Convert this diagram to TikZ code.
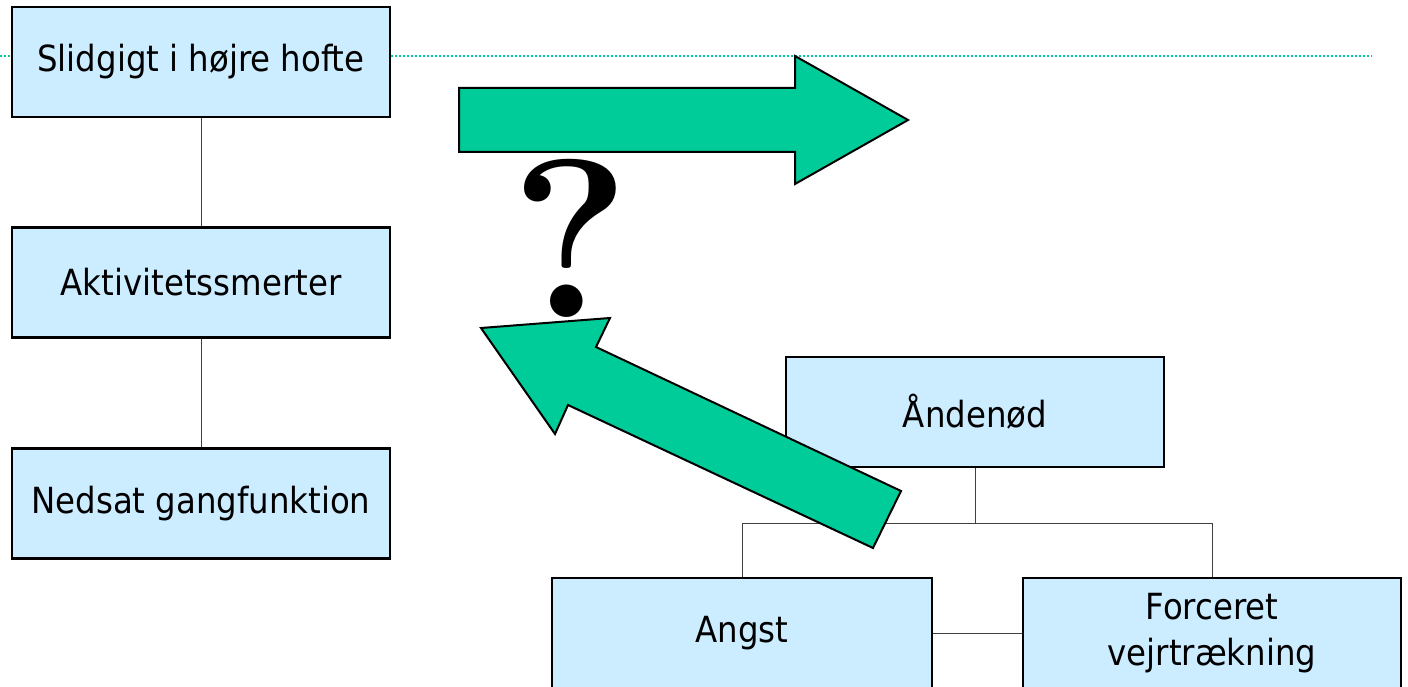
\documentclass[tikz,border=0pt]{standalone}
\usepackage{fontspec}
\usetikzlibrary{calc}
\setmainfont{DejaVu Sans Condensed}
\newfontfamily\qfont{Latin Modern Roman}
\definecolor{boxblue}{HTML}{CCECFF}
\definecolor{arrgreen}{HTML}{00CC99}
\definecolor{linegray}{HTML}{404040}
\begin{document}
\begin{tikzpicture}[x=1pt,y=-1pt,
  box/.style={draw=black,line width=2.5pt,fill=boxblue,minimum width=378pt,minimum height=110pt,inner sep=0pt,font=\fontsize{36}{46}\selectfont,align=center},
  conn/.style={draw=linegray,line width=1pt},
  bigarrow/.style={draw=black,line width=2pt,fill=arrgreen,line join=miter},
  dotline/.style={draw=arrgreen,line width=2.2pt,dash pattern=on 2pt off 2pt}]
\useasboundingbox (0,0) rectangle (1408,687);
% boxes
\node[box] (b1) at (201,62) {Slidgigt i højre hofte};
\node[box] (b2) at (201,282.5) {Aktivitetssmerter};
\node[box] (b3) at (201,503.5) {Nedsat gangfunktion};
\node[box] (and) at (975,412) {Åndenød};
\node[box,minimum width=380pt] (angst) at (742,633) {Angst};
\node[box] (force) at (1212,633) {Forceret\\vejrtrækning};
% dotted line
\coordinate (dl) at (0,56);
\coordinate (dr) at (1372,56);
\draw[dotline] (dl) -- (dl -| b1.west);
\draw[dotline] (dr -| b1.east) -- (dr);
% connectors
\draw[conn] (b1.south) -- (b2.north);
\draw[conn] (b2.south) -- (b3.north);
\coordinate (tj) at ($(and.south)+(0,55)$);
\draw[conn] (and.south) -- (tj);
\draw[conn] (tj -| angst.north) -- (tj -| force.north);
\draw[conn] (tj -| angst.north) -- (angst.north);
\draw[conn] (tj -| force.north) -- (force.north);
\draw[conn] (angst.east) -- (force.west);
% arrows
\draw[bigarrow] (459,88) -- (795,88) -- (795,56) -- (908,120) -- (795,184) -- (795,152) -- (459,152) -- cycle;
\draw[bigarrow] (481,328) -- (610,318) -- (596,347) -- (901,491) -- (873,548) -- (568,405) -- (555,434) -- cycle;
% question mark
\node[anchor=base,inner sep=0pt,font=\qfont\bfseries\fontsize{226}{226}\selectfont] (q) at (570,317) {?};
\end{tikzpicture}
\end{document}
